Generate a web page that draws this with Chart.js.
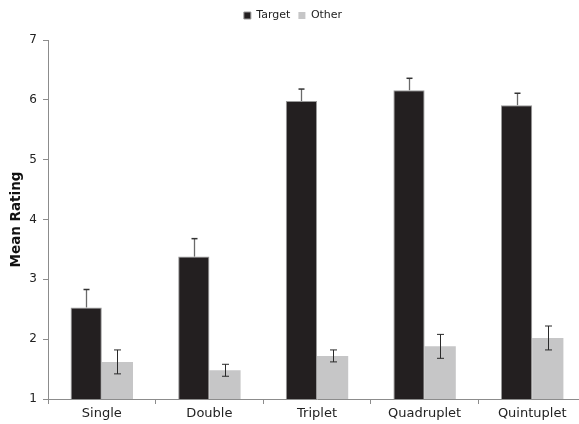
<!DOCTYPE html>
<html>
<head>
<meta charset="utf-8">
<script src="https://cdn.jsdelivr.net/npm/chart.js@4/dist/chart.umd.min.js"></script>
<style>
  html, body { margin: 0; padding: 0; background: #fff; overflow: hidden; }
  #wrap { position: absolute; left: 0; top: 0; width: 590px; height: 424px; }
</style>
</head>
<body>
<div id="wrap"><canvas id="c" width="590" height="424"></canvas></div>
<script>
const categories = ["Single", "Double", "Triplet", "Quadruplet", "Quintuplet"];
const seriesNames = ["Target", "Other"];
const targetMeans = [2.53, 3.38, 5.98, 6.16, 5.91];
const targetErr   = [0.30, 0.30, 0.20, 0.20, 0.20];
const otherMeans  = [1.62, 1.48, 1.72, 1.88, 2.02];
const otherErr    = [0.20, 0.10, 0.10, 0.20, 0.20];
const yTicks = [1, 2, 3, 4, 5, 6, 7];

const FONT = "'DejaVu Sans', Verdana, sans-serif";
const AXIS = '#8c8c8c';

const errorBarPlugin = {
  id: 'errorBars',
  afterDatasetsDraw(chart) {
    const ctx = chart.ctx;
    const y = chart.scales.y;
    const errs = [targetErr, otherErr];
    chart.data.datasets.forEach((ds, di) => {
      const meta = chart.getDatasetMeta(di);
      meta.data.forEach((bar, i) => {
        const v = ds.data[i], e = errs[di][i];
        const x = Math.round(bar.x) + 0.5;
        const yTop = y.getPixelForValue(v + e);
        const yMean = y.getPixelForValue(v);
        const yLow = y.getPixelForValue(v - e);
        ctx.save();
        ctx.lineWidth = 1;
        if (di === 0) {
          ctx.strokeStyle = '#6a6a6a';
          ctx.lineWidth = 1.3;
          ctx.beginPath(); ctx.moveTo(x, yMean); ctx.lineTo(x, yTop); ctx.stroke();
          ctx.strokeStyle = '#333';
          ctx.lineWidth = 1.5;
          ctx.beginPath(); ctx.moveTo(x - 3, yTop); ctx.lineTo(x + 3, yTop); ctx.stroke();
        } else {
          ctx.strokeStyle = '#2a2a2a';
          ctx.beginPath(); ctx.moveTo(x, yLow); ctx.lineTo(x, yTop); ctx.stroke();
          ctx.beginPath(); ctx.moveTo(x - 3.5, yTop); ctx.lineTo(x + 3.5, yTop); ctx.stroke();
          ctx.beginPath(); ctx.moveTo(x - 3.5, yLow); ctx.lineTo(x + 3.5, yLow); ctx.stroke();
        }
        ctx.restore();
      });
    });
  }
};

const chart = new Chart(document.getElementById('c'), {
  type: 'bar',
  data: {
    labels: categories,
    datasets: [
      { label: seriesNames[0], data: targetMeans, backgroundColor: '#231f20',
        borderColor: '#9a9a9a', borderWidth: 1,
        barPercentage: 1.0, categoryPercentage: 0.58 },
      { label: seriesNames[1], data: otherMeans, backgroundColor: '#c6c6c7',
        borderWidth: 0,
        barPercentage: 1.0, categoryPercentage: 0.58 }
    ]
  },
  options: {
    responsive: false,
    animation: false,
    layout: { padding: { top: 2, right: 4, left: 0, bottom: 0 } },
    plugins: {
      legend: {
        display: true,
        position: 'top',
        labels: {
          font: { family: FONT, size: 11 },
          color: '#222',
          boxWidth: 7, boxHeight: 7,
          padding: 8
        }
      },
      tooltip: { enabled: false }
    },
    scales: {
      x: {
        offset: true,
        grid: { display: true, drawOnChartArea: false, color: AXIS, tickLength: 5, offset: true },
        border: { color: AXIS, width: 1 },
        ticks: { font: { family: FONT, size: 13 }, color: '#222', padding: 2 },
        afterFit(scale) { scale.height = 25; }
      },
      y: {
        min: 1, max: 7,
        afterBuildTicks(scale) { scale.ticks = yTicks.map(v => ({ value: v })); },
        grid: { display: true, drawOnChartArea: false, color: AXIS, tickLength: 5 },
        border: { color: AXIS, width: 1 },
        ticks: { font: { family: FONT, size: 12 }, color: '#222', padding: 6 },
        title: { display: true, text: 'Mean Rating', font: { family: FONT, size: 13.5, weight: 'bold' }, color: '#111', padding: { top: 8, bottom: 0 } },
        afterFit(scale) { scale.width = 48; }
      }
    }
  },
  plugins: [errorBarPlugin]
});

// Leave extra room below the legend so the plot starts where the reference does
const origFit = chart.legend.fit.bind(chart.legend);
chart.legend.fit = function () { origFit(); this.height += 9; };
chart.update();
</script>
</body>
</html>
